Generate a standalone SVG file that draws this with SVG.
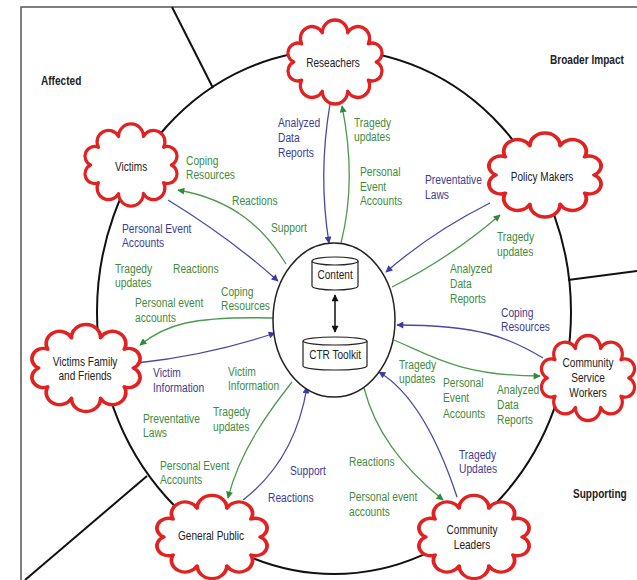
<svg xmlns="http://www.w3.org/2000/svg" xmlns:xlink="http://www.w3.org/1999/xlink" width="637" height="580" viewBox="0 0 637 580">
<style>
text{font-family:"Liberation Sans",Arial,sans-serif;transform-box:fill-box;}
.lb{font-size:12.5px;fill:#3c3c96;transform-origin:0% 50%;transform:scaleX(0.82);}
.lg{font-size:12.5px;fill:#3d8c3d;transform-origin:0% 50%;transform:scaleX(0.82);}
.nt{font-size:12.3px;fill:#222;text-anchor:middle;transform-origin:50% 50%;transform:scaleX(0.82);}
.rg{font-size:12.3px;font-weight:bold;fill:#222;transform-origin:0% 50%;transform:scaleX(0.82);}
.cl{fill:#fff;stroke:#e02222;stroke-width:3;stroke-linejoin:round;}
.cb{fill:none;stroke:#4848a6;stroke-width:1.3;marker-end:url(#ab);}
.cg{fill:none;stroke:#4e9a4e;stroke-width:1.3;marker-end:url(#ag);}
.bk{fill:none;stroke:#111;stroke-width:2;}
.cyl{fill:#fff;stroke:#222;stroke-width:1.2;}
</style>
<defs>
<path id="cloud" d="M-30.7,-16.5 A1,1 0 0 1 -11.7,-26.6 A1,1 0 0 1 11.7,-26.6 A1,1 0 0 1 30.7,-16.5 A1,1 0 0 1 38,0 A1,1 0 0 1 30.7,16.5 A1,1 0 0 1 11.7,26.6 A1,1 0 0 1 -11.7,26.6 A1,1 0 0 1 -30.7,16.5 A1,1 0 0 1 -38,0 A1,1 0 0 1 -30.7,-16.5 Z"/>
<marker id="ab" viewBox="0 0 10 10" refX="9" refY="5" markerWidth="9" markerHeight="7" markerUnits="userSpaceOnUse" orient="auto"><path d="M0,0 L10,5 L0,10 z" fill="#3c3ca0"/></marker>
<marker id="ag" viewBox="0 0 10 10" refX="9" refY="5" markerWidth="9" markerHeight="7" markerUnits="userSpaceOnUse" orient="auto"><path d="M0,0 L10,5 L0,10 z" fill="#2f8a3a"/></marker>
<marker id="ak" viewBox="0 0 10 10" refX="9" refY="5" markerWidth="9" markerHeight="7" markerUnits="userSpaceOnUse" orient="auto-start-reverse"><path d="M0,0 L10,5 L0,10 z" fill="#111"/></marker>
</defs>

<!-- frame -->
<path d="M21,580 V7 H637" fill="none" stroke="#555" stroke-width="1.5"/>

<!-- outer ring and sector dividers -->
<g id="ring">
<ellipse cx="334" cy="312" rx="237" ry="262" class="bk"/>
<path d="M172,7 L213,88" class="bk"/>
<path d="M568,280 L637,271" class="bk"/>
<path d="M147,476 L25,580" class="bk"/>
</g>

<!-- region labels -->
<text class="rg" x="41" y="85.5">Affected</text>
<text class="rg" x="550" y="64.5">Broader Impact</text>
<text class="rg" x="573" y="498.5">Supporting</text>

<!-- connectors -->
<g id="connectors">
<path class="cb" d="M330,104 Q318,175 329,243"/>
<path class="cg" d="M341,243 Q357,180 342,106"/>
<path class="cb" d="M490,203 Q432,232 386,272"/>
<path class="cg" d="M392,287 Q450,258 500,215"/>
<path class="cb" d="M543,358 C510,338 480,325 397,325"/>
<path class="cg" d="M394,340 C430,355 460,376 540,376"/>
<path class="cb" d="M457,497 Q425,400 379,372"/>
<path class="cg" d="M364,388 C375,430 400,465 443,500"/>
<path class="cb" d="M243,500 Q295,460 307,387"/>
<path class="cg" d="M292,382 C270,410 240,450 228,498"/>
<path class="cb" d="M137,363 Q210,355 275,333"/>
<path class="cg" d="M273,318 C190,316 165,325 140,345"/>
<path class="cb" d="M168,200 Q230,238 278,281"/>
<path class="cg" d="M286,264 C265,230 235,200 178,190"/>
</g>

<!-- labels -->
<g id="labels">
<text class="lb" x="278" y="127.5">Analyzed</text>
<text class="lb" x="278" y="142.5">Data</text>
<text class="lb" x="278" y="157.5">Reports</text>
<text class="lg" x="354" y="127.5">Tragedy</text>
<text class="lg" x="354" y="141.5">updates</text>
<text class="lg" x="360" y="176.5">Personal</text>
<text class="lg" x="360" y="191.5">Event</text>
<text class="lg" x="360" y="205.5">Accounts</text>
<text class="lb" x="425" y="184.5">Preventative</text>
<text class="lb" x="425" y="199.5">Laws</text>
<text class="lg" x="497" y="241.5">Tragedy</text>
<text class="lg" x="497" y="256.5">updates</text>
<text class="lg" x="450" y="273.5">Analyzed</text>
<text class="lg" x="450" y="288.5">Data</text>
<text class="lg" x="450" y="303.5">Reports</text>
<text class="lb" x="501" y="317.5">Coping</text>
<text class="lb" x="501" y="331.5">Resources</text>
<text class="lg" x="399" y="369.5">Tragedy</text>
<text class="lg" x="399" y="383.5">updates</text>
<text class="lg" x="443" y="387.5">Personal</text>
<text class="lg" x="443" y="402.5">Event</text>
<text class="lg" x="443" y="418">Accounts</text>
<text class="lg" x="497" y="394.5">Analyzed</text>
<text class="lg" x="497" y="409.5">Data</text>
<text class="lg" x="497" y="424.5">Reports</text>
<text class="lb" x="459" y="459.5">Tragedy</text>
<text class="lb" x="459" y="473.5">Updates</text>
<text class="lg" x="349" y="466.5">Reactions</text>
<text class="lg" x="349" y="501.5">Personal event</text>
<text class="lg" x="349" y="516.5">accounts</text>
<text class="lb" x="290" y="475.5">Support</text>
<text class="lb" x="268" y="502.5">Reactions</text>
<text class="lg" x="228" y="376.5">Victim</text>
<text class="lg" x="228" y="390.5">Information</text>
<text class="lg" x="213" y="416.5">Tragedy</text>
<text class="lg" x="213" y="431.5">updates</text>
<text class="lg" x="143" y="423.5">Preventative</text>
<text class="lg" x="143" y="437.5">Laws</text>
<text class="lg" x="160" y="470.5">Personal Event</text>
<text class="lg" x="160" y="484.5">Accounts</text>
<text class="lb" x="153" y="377.5">Victim</text>
<text class="lb" x="153" y="392.5">Information</text>
<text class="lg" x="221" y="296.5">Coping</text>
<text class="lg" x="221" y="310.5">Resources</text>
<text class="lg" x="135" y="307.5">Personal event</text>
<text class="lg" x="135" y="322.5">accounts</text>
<text class="lg" x="115" y="273.5">Tragedy</text>
<text class="lg" x="115" y="287.5">updates</text>
<text class="lg" x="173" y="273.5">Reactions</text>
<text class="lb" x="122" y="233.5">Personal Event</text>
<text class="lb" x="122" y="247.5">Accounts</text>
<text class="lg" x="186" y="165.5">Coping</text>
<text class="lg" x="186" y="179.5">Resources</text>
<text class="lg" x="232" y="205.5">Reactions</text>
<text class="lg" x="271" y="232.5">Support</text>
</g>

<!-- hub -->
<g id="hub">
<ellipse cx="334" cy="320" rx="61" ry="77" fill="#fff" stroke="#222" stroke-width="1.5"/>
<g id="content">
<path class="cyl" d="M312,261 V286 A23,4 0 0 0 358,286 V261"/>
<ellipse class="cyl" cx="335" cy="261" rx="23" ry="4"/>
<text class="nt" x="335" y="279.5">Content</text>
</g>
<g id="toolkit">
<path class="cyl" d="M303,341 V366 A32,4 0 0 0 367,366 V341"/>
<ellipse class="cyl" cx="335" cy="341" rx="32" ry="4"/>
<text class="nt" x="335" y="359.5">CTR Toolkit</text>
</g>
<path d="M335,295 V332" fill="none" stroke="#111" stroke-width="1.5" marker-start="url(#ak)" marker-end="url(#ak)"/>
</g>

<!-- stakeholder clouds -->
<g id="researchers">
<use xlink:href="#cloud" class="cl" transform="translate(335,62) scale(1.084,1.097)"/>
<text class="nt" x="333" y="67.5">Reseachers</text>
</g>
<g id="victims">
<use xlink:href="#cloud" class="cl" transform="translate(131,165) scale(1.061,1.071)"/>
<text class="nt" x="131" y="171">Victims</text>
</g>
<g id="policy-makers">
<use xlink:href="#cloud" class="cl" transform="translate(545,175) scale(1.292,1.097)"/>
<text class="nt" x="542" y="181">Policy Makers</text>
</g>
<g id="community-service-workers">
<use xlink:href="#cloud" class="cl" transform="translate(588,378) scale(1.073,1.110)"/>
<text class="nt" x="588" y="367">Community</text>
<text class="nt" x="588" y="382">Service</text>
<text class="nt" x="588" y="397">Workers</text>
</g>
<g id="community-leaders">
<use xlink:href="#cloud" class="cl" transform="translate(474,537) scale(1.269,1.084)"/>
<text class="nt" x="472" y="534">Community</text>
<text class="nt" x="472" y="549">Leaders</text>
</g>
<g id="general-public">
<use xlink:href="#cloud" class="cl" transform="translate(212,537) scale(1.269,1.084)"/>
<text class="nt" x="211" y="540.5">General Public</text>
</g>
<g id="victims-family">
<use xlink:href="#cloud" class="cl" transform="translate(86,368) scale(1.246,1.136)"/>
<text class="nt" x="85" y="366">Victims Family</text>
<text class="nt" x="85" y="380">and Friends</text>
</g>
</svg>
